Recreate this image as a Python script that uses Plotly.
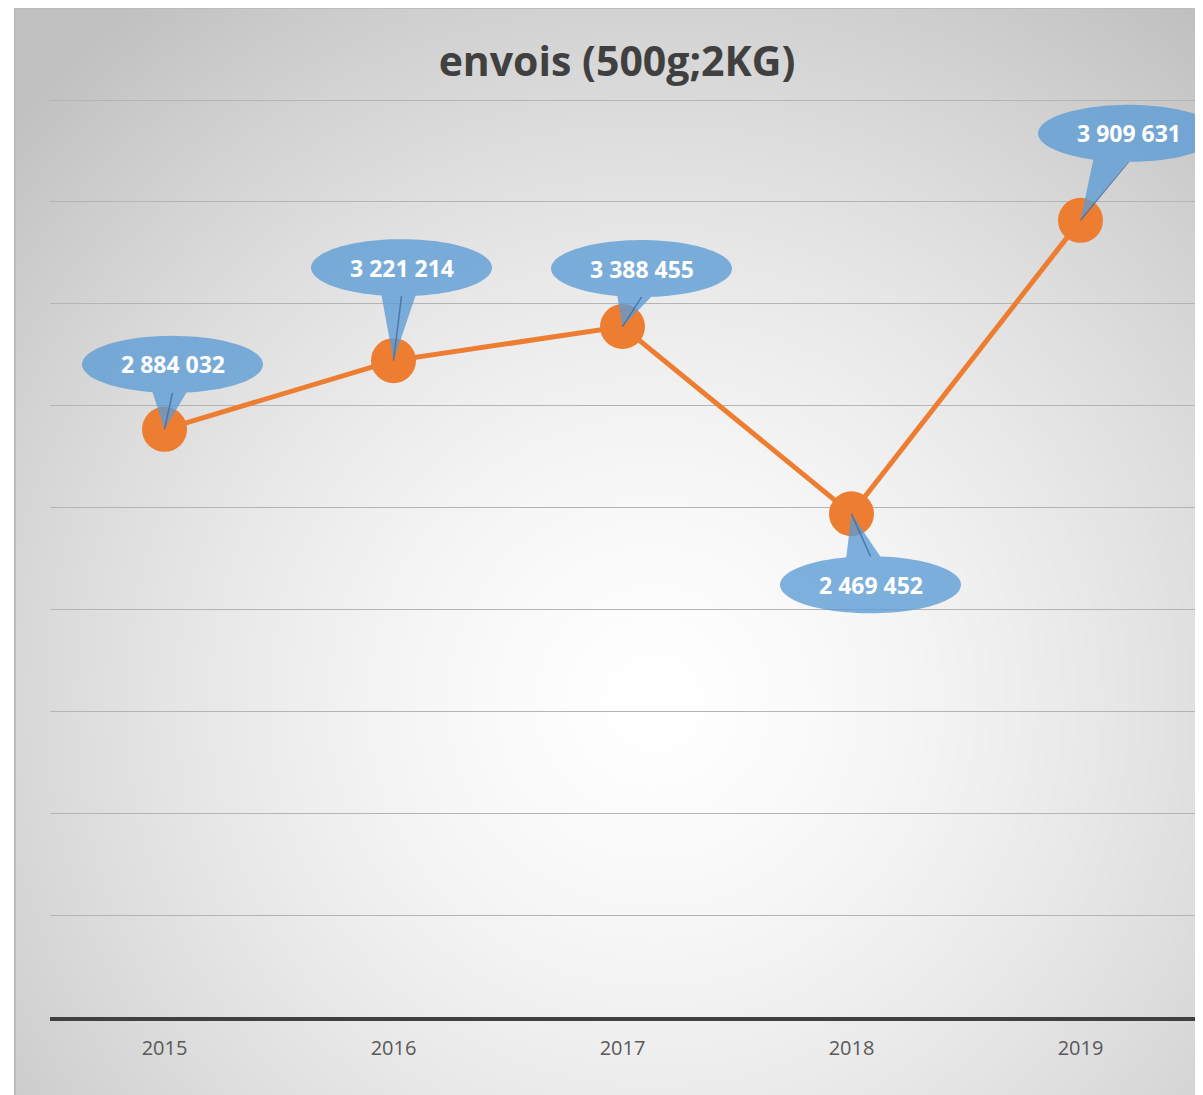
import base64
import struct
import zlib

import numpy as np
import plotly.graph_objects as go

# data
years = ['2015', '2016', '2017', '2018', '2019']
envois = [2884032, 3221214, 3388455, 2469452, 3909631]

# callout offsets (pixels, ellipse centre relative to the point, screen y down)
callout_dx = [8, 8, 19, 19, 48]
callout_dy = [-65, -93, -58, 71, -87]

title_text = 'envois (500g;2KG)'

# page body has an 8px margin, so the figure starts at (8, 8) on screen
OFF = 8
W, H = 1203 - OFF, 1095 - OFF
Y_MAX = 4520000
PLOT_L, PLOT_R, PLOT_B = 50, 1195, 1017
PLOT_T = PLOT_B - (PLOT_B - 100) * Y_MAX / 4500000
ML, MR = PLOT_L - OFF, W - (PLOT_R - OFF)
MT, MB = PLOT_T - OFF, H - (PLOT_B - OFF)
PW, PH = W - ML - MR, H - MT - MB

ORANGE = '#ED7D31'
BLUE = 'rgb(91,155,213)'


def png_data_uri(gray):
    h, w = gray.shape
    raw = b''.join(b'\x00' + gray[r].tobytes() for r in range(h))

    def chunk(tag, data):
        c = struct.pack('>I', len(data)) + tag + data
        return c + struct.pack('>I', zlib.crc32(tag + data) & 0xffffffff)

    png = b'\x89PNG\r\n\x1a\n'
    png += chunk(b'IHDR', struct.pack('>IIBBBBB', w, h, 8, 0, 0, 0, 0))
    png += chunk(b'IDAT', zlib.compress(raw, 9))
    png += chunk(b'IEND', b'')
    return 'data:image/png;base64,' + base64.b64encode(png).decode()


# radial grey background of the chart area (screen coords)
cx0, cy0, cx1, cy1 = 15, 8, 1210, 1100
scale = 4
gw, gh = (cx1 - cx0) // scale, (cy1 - cy0) // scale
xs = cx0 + np.arange(gw) * scale
ys = cy0 + np.arange(gh) * scale
X, Y = np.meshgrid(xs, ys)
t = np.sqrt(((X - 650) / 650.0) ** 2 + ((Y - 700) / 650.0) ** 2)
g = 255 - 40 * t ** 1.5
g = np.clip(g, 192, 255).astype(np.uint8)
bg_uri = png_data_uri(g)


def px_to_paper_x(px):
    return (px - PLOT_L) / PW


def px_to_paper_y(py):
    return (PLOT_B - py) / PH


def callout_path(dx, dy, rx=90.5, ry=28.5, half=17, n=90):
    # one outline: ellipse with a pointer to the point (pixel offsets, screen y down)
    side = 1 if dy < 0 else -1
    bx = 0.62 * dx
    ta = side * np.arccos(np.clip((bx - half - dx) / rx, -1, 1))
    tb = side * np.arccos(np.clip((bx + half - dx) / rx, -1, 1))
    t_s, t_e = min(ta, tb), max(ta, tb)
    ang = np.linspace(t_e, t_s + 2 * np.pi, n)
    pts = [(dx + rx * np.cos(a), dy + ry * np.sin(a)) for a in ang]
    pts.append((0.0, 0.0))
    return 'M' + 'L'.join(f'{x:.1f},{-y:.1f}' for x, y in pts) + 'Z'


fig = go.Figure()

fig.add_trace(go.Scatter(
    x=years, y=envois,
    mode='lines+markers',
    line=dict(color=ORANGE, width=5),
    marker=dict(color=ORANGE, size=45),
    hoverinfo='skip',
))

shapes = [
    dict(type='rect', xref='paper', yref='paper',
         x0=px_to_paper_x(cx0), x1=px_to_paper_x(cx1),
         y0=px_to_paper_y(cy1), y1=px_to_paper_y(cy0),
         line=dict(color='rgb(188,188,188)', width=2), layer='below'),
]
annotations = []
for i, (v, dx, dy) in enumerate(zip(envois, callout_dx, callout_dy)):
    shapes.append(dict(
        type='path', xref='x', yref='y', xsizemode='pixel', ysizemode='pixel',
        xanchor=i, yanchor=v, path=callout_path(dx, dy),
        fillcolor=BLUE, opacity=0.78, line=dict(width=0), layer='above',
    ))
    edge = dy + (28.5 if dy < 0 else -28.5)
    shapes.append(dict(
        type='line', xref='x', yref='y', xsizemode='pixel', ysizemode='pixel',
        xanchor=i, yanchor=v, x0=0, y0=0, x1=dx, y1=-edge,
        line=dict(color='rgba(60,105,160,0.75)', width=1.5), layer='above',
    ))
    annotations.append(dict(
        x=i, y=v, xref='x', yref='y', showarrow=False,
        xshift=dx, yshift=-dy,
        text=f'{v:,}'.replace(',', ' '),
        font=dict(family='Open Sans', size=23, color='white', weight='bold'),
    ))

fig.update_layout(
    width=W, height=H,
    margin=dict(l=ML, r=MR, t=MT, b=MB, pad=0),
    paper_bgcolor='white',
    plot_bgcolor='rgba(0,0,0,0)',
    showlegend=False,
    title=dict(text=title_text, xref='container', yref='container',
               x=(617 - OFF) / W, y=1 - (62 - OFF) / H, xanchor='center', yanchor='middle',
               font=dict(family='Open Sans', size=41, color='#404040', weight='bold')),
    images=[dict(source=bg_uri, xref='paper', yref='paper',
                 x=px_to_paper_x(cx0), y=px_to_paper_y(cy0),
                 sizex=(cx1 - cx0) / PW, sizey=(cy1 - cy0) / PH,
                 sizing='stretch', xanchor='left', yanchor='top', layer='below')],
    shapes=shapes,
    annotations=annotations,
)

fig.update_xaxes(
    type='category', range=[-0.5, 4.5],
    showgrid=False, showline=True, linecolor='#404040', linewidth=4,
    ticks='outside', ticklen=10, tickcolor='rgba(0,0,0,0)',
    tickfont=dict(family='Open Sans', size=20, color='#595959'),
    fixedrange=True,
)
fig.update_yaxes(
    range=[0, Y_MAX], dtick=500000,
    showgrid=True, gridcolor='rgb(180,180,180)', gridwidth=1.3,
    showticklabels=False, zeroline=False, fixedrange=True,
)

fig.write_html('out.html')
